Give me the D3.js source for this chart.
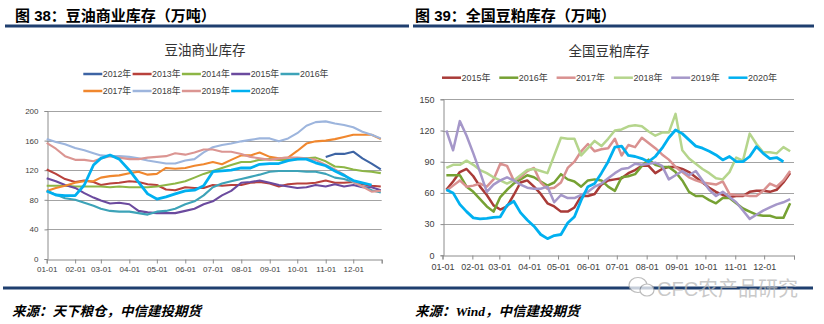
<!DOCTYPE html>
<html>
<head>
<meta charset="utf-8">
<script src="https://cdn.jsdelivr.net/npm/d3@7"></script>
<style>
  html, body { margin: 0; padding: 0; background: #fff; }
  svg { display: block; }
  text { font-family: "Liberation Sans", "Noto Sans CJK SC", sans-serif; }
</style>
</head>
<body>
<svg id="chart" width="824" height="324"></svg>
<script>
// ---------- data: 豆油商业库存 ----------
const oilDates = ["01-01","01-11","01-21","02-01","02-11","02-21","03-01","03-11","03-21",
  "04-01","04-11","04-21","05-01","05-11","05-21","06-01","06-11","06-21","07-01","07-11","07-21",
  "08-01","08-11","08-21","09-01","09-11","09-21","10-01","10-11","10-21","11-01","11-11","11-21",
  "12-01","12-11","12-21","12-31"];
const monthTicks = ["01-01","02-01","03-01","04-01","05-01","06-01","07-01","08-01","09-01","10-01","11-01","12-01"];
const oilYTicks = [0, 40, 80, 120, 160, 200];
const oilYears = ["2012年","2013年","2014年","2015年","2016年","2017年","2018年","2019年","2020年"];

const oil2012 = [null,null,null,null,null,null,null,null,null,null,null,null,null,null,null,null,null,null,
  null,null,null,null,null,null,null,null,null,null,null,null,138,142,142,145,136,129,121];
const oil2013 = [121,115,108,104,106,104,100,102,103,105,104,101,100,94,93,97,96,96,100,99,100,100,103,104,
  102,98,101,102,102,103,106,103,103,104,101,99,98];
const oil2014 = [99,99,99,98,98,98,98,97,98,97,97,97,98,100,102,105,110,115,119,123,127,131,131,134,
  135,134,134,135,136,137,132,125,124,121,119,118,116];
const oil2015 = [109,105,100,96,89,83,79,75,76,74,65,63,62,62,62,65,68,74,78,86,92,103,104,106,
  103,100,98,96,97,100,98,101,98,100,97,97,93];
const oil2016 = [92,87,82,80,76,72,68,65,64,64,62,60,64,65,68,74,78,86,97,102,105,108,111,114,
  118,119,119,119,118,118,115,110,108,104,98,93,90];
const oil2017 = [92,96,99,103,105,105,110,112,113,116,118,114,115,123,122,123,126,128,131,128,134,140,140,144,
  138,136,137,146,156,159,160,162,165,168,168,168,162];
const oil2018 = [162,158,155,150,147,143,140,139,139,138,136,133,131,129,129,133,135,144,151,154,156,159,161,163,
  163,159,163,170,180,185,186,183,181,178,172,168,163];
const oil2019 = [157,149,139,134,134,132,136,139,137,135,135,137,138,139,143,141,144,148,148,145,145,142,138,136,
  134,136,137,137,136,134,127,121,114,104,98,91,92];
const oil2020 = [92,86.5,85.6,85.6,100,127,136,140.5,135,120,104,88,81,84,88,92,93,99,118,119,120,123,123,128,
  129,129,133,135,135,130,126,119,113,106,103,100,null];

// ---------- data: 全国豆粕库存 ----------
const mealDates = ["01-05","01-12","01-19","01-26","02-02","02-09","02-16","02-23","03-02","03-09","03-16",
  "03-23","03-30","04-06","04-13","04-20","04-27","05-04","05-11","05-18","05-25","06-01","06-08","06-15",
  "06-22","06-29","07-06","07-13","07-20","07-27","08-03","08-10","08-17","08-24","08-31","09-07","09-14",
  "09-21","09-28","10-05","10-12","10-19","10-26","11-02","11-09","11-16","11-23","11-30","12-07","12-14",
  "12-21","12-28"];
const mealYTicks = [0, 30, 60, 90, 120, 150];
const mealYears = ["2015年","2016年","2017年","2018年","2019年","2020年"];

const meal2015 = [63,71,80,83,76,66,58,48,44,47,58,70,72,66,59,50,47,42,42,46,57,57,59,68,72,73,74,79,82,86,
  86,79,83,85,85,83,80,75,70,65,61,58,56,57,57,61,62,62,61,63,70,79];
const meal2016 = [77,77,77,66,61,54,47,42,56,63,69,73,77,75,71,67,70,78,73,71,66,72,73,72,66,62,75,76,78,86,
  92,87,85,85,80,72,61,57,57,53,50,55,55,50,45,42,39,38,38,36,36,50];
const meal2017 = [62,67,72,66,67,69,66,73,88,86,72,75,81,84,70,64,65,70,84,90,100,107,100,102,103,112,96,106,
  104,113,108,103,97,92,85,80,75,72,70,69,68,71,59,58,58,57,57,62,69,66,72,81];
const meal2018 = [84,87,87,91,87,82,79,75,72,69,72,77,82,83,81,79,96,113,112,112,96,103,110,105,112,120,121,
  124,125,124,119,115,118,118,136,101,93,88,83,79,74,73,80,94,91,117,107,99,99,98,104,100];
const meal2019 = [120,101,129,115,98,80,61,68,72,75,72,68,65,64,64,66,51,58,55,55,58,61,66,69,74,79,83,84,88,
  87,88,89,86,73,77,81,77,81,72,63,57,61,56,51,43,35,39,43,46,49,51,54];
const meal2020 = [63,60,49,42,36,35,35.5,36.5,37,48,52,41,34,28,20,16,19,20,31,37,53,66,69,79,90,104,105,96,
  95,93,90,95,103,113,120.5,117,111,105,103,100,96.5,91.7,95,90,90,95,104.5,98,93,94,90,null];

// ---------- styles ----------
const oilColors = ["#3D64A4","#B8413C","#8DB646","#6B4A9E","#3DA3B8","#F0872E","#9DB5DD","#DB9592","#00B0F0"];
const mealColors = ["#A93B38","#76A133","#D99190","#B5D58C","#A597C9","#00B0F0"];
const ruleColor = "#1F3F6F";

const svg = d3.select("#chart");
const parseDay = d3.timeParse("%Y-%m-%d");
const day = s => parseDay("2019-" + s);
const yearEnd = parseDay("2020-01-01");
const crisp = v => Math.round(v) + 0.5;

// header + rule for each panel
function header(x, text, x1, x2) {
  svg.append("text")
    .attr("x", x).attr("y", 21)
    .attr("font-family", "Noto Sans CJK SC")
    .attr("font-size", 15).attr("font-weight", 700)
    .attr("fill", "#000")
    .text(text);
  svg.append("rect")
    .attr("x", x1).attr("y", 24.5).attr("width", x2 - x1).attr("height", 3)
    .attr("fill", ruleColor);
}

function drawPanel(cfg) {
  const g = svg.append("g");

  const x = d3.scaleTime().domain([day("01-01"), yearEnd]).range([cfg.left, cfg.right]);
  const y = d3.scaleLinear().domain([0, cfg.yTicks[cfg.yTicks.length - 1]]).range([cfg.bottom, cfg.top]);

  // chart title
  g.append("text")
    .attr("x", cfg.titleX).attr("y", cfg.titleY)
    .attr("text-anchor", "middle")
    .attr("font-family", "Noto Sans CJK SC")
    .attr("font-size", 13.5)
    .attr("fill", "#333")
    .text(cfg.title);

  // legend
  const leg = g.append("g").selectAll("g")
    .data(cfg.years)
    .join("g")
    .attr("transform", (d, i) => {
      const row = Math.floor(i / cfg.perRow), col = i % cfg.perRow;
      return `translate(${cfg.legX + col * cfg.legStep}, ${cfg.legY + row * cfg.legRowGap})`;
    });
  leg.append("line")
    .attr("x1", 0).attr("x2", 19).attr("y1", 0).attr("y2", 0)
    .attr("stroke", (d, i) => cfg.colors[i]).attr("stroke-width", 2.5);
  leg.append("text")
    .attr("x", 19.5).attr("y", 3.2)
    .attr("font-size", cfg.legFont)
    .attr("fill", "#404040")
    .text(d => d);

  // gridlines
  g.append("g").selectAll("line")
    .data(cfg.yTicks.slice(1))
    .join("line")
    .attr("x1", cfg.left).attr("x2", cfg.right)
    .attr("y1", d => crisp(y(d))).attr("y2", d => crisp(y(d)))
    .attr("stroke", "#a3a3a3").attr("stroke-width", 1);

  // y axis
  g.append("g")
    .attr("transform", `translate(${crisp(cfg.left)},0)`)
    .call(d3.axisLeft(y).tickValues(cfg.yTicks).tickSize(3).tickPadding(6))
    .call(a => a.select(".domain").attr("stroke", "#8c8c8c"))
    .call(a => a.selectAll(".tick line").attr("stroke", "#8c8c8c"))
    .call(a => a.selectAll(".tick text")
      .attr("font-family", "Liberation Sans").attr("font-size", cfg.tickFont).attr("fill", "#404040"));

  // x axis: month starts plus the year end
  const xTickDates = monthTicks.map(day).concat([yearEnd]);
  g.append("g")
    .attr("transform", `translate(0,${crisp(cfg.bottom)})`)
    .call(d3.axisBottom(x).tickValues(xTickDates).tickSize(4).tickPadding(cfg.xPad)
      .tickFormat((d, i) => i < monthTicks.length ? monthTicks[i] : ""))
    .call(a => a.select(".domain").attr("stroke", "#8c8c8c"))
    .call(a => a.selectAll(".tick line").attr("stroke", "#8c8c8c"))
    .call(a => a.selectAll(".tick text")
      .attr("font-family", "Liberation Sans").attr("font-size", cfg.tickFont).attr("fill", "#404040"));

  // series
  const line = d3.line()
    .defined(d => d.v != null)
    .x(d => x(d.date))
    .y(d => y(d.v));

  cfg.series.forEach((vals, i) => {
    const pts = vals.map((v, k) => ({ date: day(cfg.dates[k]), v: v }));
    g.append("path")
      .datum(pts)
      .attr("fill", "none")
      .attr("stroke", cfg.colors[i])
      .attr("stroke-width", i === cfg.series.length - 1 ? 2.8 : cfg.lineW)
      .attr("stroke-linejoin", "round")
      .attr("d", line);
  });
}

header(15, "图 38：豆油商业库存（万吨）", 5, 409);
header(415, "图 39：全国豆粕库存（万吨）", 413, 814);

drawPanel({
  title: "豆油商业库存", titleX: 205, titleY: 55,
  years: oilYears, colors: oilColors, perRow: 5,
  legX: 83.3, legY: 74, legStep: 49.3, legRowGap: 17, legFont: 8.8,
  left: 46.7, right: 381.7, top: 111, bottom: 259,
  yTicks: oilYTicks, tickFont: 8, xPad: 3, lineW: 2.1,
  dates: oilDates,
  series: [oil2012, oil2013, oil2014, oil2015, oil2016, oil2017, oil2018, oil2019, oil2020]
});

drawPanel({
  title: "全国豆粕库存", titleX: 609, titleY: 56,
  years: mealYears, colors: mealColors, perRow: 6,
  legX: 442, legY: 77.7, legStep: 57.3, legRowGap: 17, legFont: 9,
  left: 442.5, right: 794, top: 99.3, bottom: 255.3,
  yTicks: mealYTicks, tickFont: 9, xPad: 4, lineW: 2.5,
  dates: mealDates,
  series: [meal2015, meal2016, meal2017, meal2018, meal2019, meal2020]
});

// footer rule
svg.append("rect")
  .attr("x", 3).attr("y", 286.5).attr("width", 810).attr("height", 3)
  .attr("fill", ruleColor);

// watermark (WeChat style bubble + account name)
const wm = svg.append("g").attr("opacity", 0.75);
wm.append("ellipse").attr("cx", 638).attr("cy", 285).attr("rx", 9).attr("ry", 7.5)
  .attr("fill", "#fff").attr("stroke", "#a8a8a8").attr("stroke-width", 1.2);
wm.append("ellipse").attr("cx", 647).attr("cy", 290).attr("rx", 7).attr("ry", 6)
  .attr("fill", "#fff").attr("stroke", "#a8a8a8").attr("stroke-width", 1.2);
wm.append("text")
  .attr("x", 657).attr("y", 296)
  .attr("font-family", "Noto Sans CJK SC")
  .attr("font-size", 20)
  .attr("fill", "#b8b8b8")
  .text("CFC农产品研究");

// sources
const src = (x, parts) => {
  const t = svg.append("text")
    .attr("x", x).attr("y", 316)
    .attr("font-size", 13.5).attr("font-weight", 700).attr("font-style", "italic")
    .attr("fill", "#000");
  parts.forEach(p => t.append("tspan")
    .attr("font-family", p.serif ? "Liberation Serif" : "Noto Sans CJK SC")
    .text(p.t));
};
src(12, [{ t: "来源：天下粮仓，中信建投期货" }]);
src(415, [{ t: "来源：" }, { t: "Wind", serif: true }, { t: "，中信建投期货" }]);
</script>
</body>
</html>
